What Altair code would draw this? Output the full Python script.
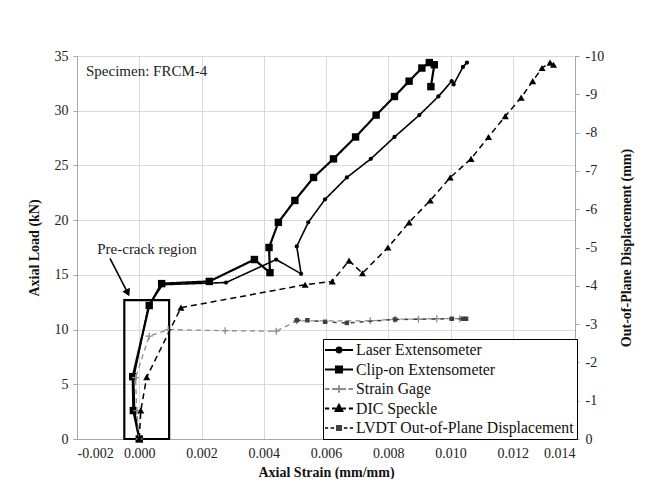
import altair as alt
import pandas as pd

# ---------------- data ----------------
laser_x = [0.0, -0.00015, -0.00018, 0.00030, 0.00075, 0.00279, 0.00440, 0.00520, 0.00506,
           0.00543, 0.00597, 0.00667, 0.00744, 0.00820, 0.00900, 0.00961, 0.01004, 0.01010,
           0.01040, 0.01053]
laser_y = [0.0, 2.6, 5.6, 12.2, 14.1, 14.3, 16.4, 15.1, 17.6,
           19.8, 21.9, 23.9, 25.6, 27.6, 29.6, 31.3, 32.7, 32.4,
           34.0, 34.4]

clip_x = [0.0, -0.00019, -0.00021, 0.00032, 0.00072, 0.00225, 0.00370, 0.00420, 0.00417,
          0.00447, 0.00500, 0.00560, 0.00624, 0.00695, 0.00761, 0.00820, 0.00867, 0.00908,
          0.00932, 0.00948, 0.00937]
clip_y = [0.0, 2.6, 5.7, 12.2, 14.2, 14.4, 16.4, 15.2, 17.5,
          19.8, 21.8, 23.9, 25.6, 27.6, 29.6, 31.3, 32.7, 33.9,
          34.4, 34.2, 32.2]

sg_x = [0.0, -0.00008, -0.00012, 0.00032, 0.00093, 0.00276, 0.00440, 0.00506,
        0.00742, 0.00822, 0.00897, 0.00956, 0.01030]
sg_y = [0.0, 2.6, 5.6, 9.4, 10.0, 9.9, 9.85, 10.8,
        10.8, 10.95, 10.95, 11.0, 11.0]

dic_x = [0.0, 0.00005, 0.00024, 0.00134, 0.00533, 0.00620, 0.00674, 0.00717, 0.00799,
         0.00867, 0.00935, 0.00999, 0.01066, 0.01122, 0.01176, 0.01227, 0.01264, 0.01294,
         0.01320, 0.01331]
dic_y = [0.0, 2.6, 5.65, 12.0, 14.1, 14.4, 16.3, 15.15, 17.5,
         19.8, 21.8, 23.9, 25.6, 27.6, 29.5, 31.2, 32.7, 33.9,
         34.4, 34.2]

lvdt_x = [0.00506, 0.00540, 0.00597, 0.00667, 0.00822, 0.01004, 0.01040, 0.01050]
lvdt_mm = [-3.10, -3.10, -3.06, -3.03, -3.12, -3.14, -3.14, -3.14]

series_names = ["Laser Extensometer", "Clip-on Extensometer", "Strain Gage",
                "DIC Speckle", "LVDT Out-of-Plane Displacement"]

x_ticks = [-0.002, 0.0, 0.002, 0.004, 0.006, 0.008, 0.010, 0.012, 0.014]
y_ticks = [0, 5, 10, 15, 20, 25, 30, 35]
y2_ticks = [0, -1, -2, -3, -4, -5, -6, -7, -8, -9, -10]

# annotations
box_x = [-0.00048, 0.00096]
box_y = [0.0, 12.7]
arrow_x = [-0.00094, -0.00037]
arrow_y = [16.5, 13.35]
specimen_label = "Specimen: FRCM-4"
specimen_pos = (-0.00171, 33.15)
precrack_label = "Pre-crack region"
precrack_pos = (-0.00135, 16.9)

# ---------------- styling ----------------
FONT = "Liberation Serif"
GRID = "#d9d9d9"
AXC = "#a6a6a6"
AX_COMMON = dict(labelFont=FONT, labelFontSize=14, labelColor="#222222",
                 titleFont=FONT, titleFontSize=14, titleFontWeight="bold", titleColor="#111111",
                 domainColor=AXC, tickColor=AXC, gridColor=GRID, gridWidth=1)


def make_df(xs, ys, name, col="value"):
    return pd.DataFrame({"strain": xs, col: ys, "series": name, "i": list(range(len(xs)))})


X = alt.X("strain:Q",
          scale=alt.Scale(domain=[-0.002, 0.014], nice=False, zero=False),
          axis=alt.Axis(values=x_ticks, title="Axial Strain (mm/mm)",
                        labelExpr="datum.value < 0 ? '-' + format(-datum.value, '.3f') : format(datum.value, '.3f')",
                        ticks=False, labelPadding=7, titlePadding=5, **AX_COMMON))
Y = alt.Y("value:Q",
          scale=alt.Scale(domain=[0, 35], nice=False),
          axis=alt.Axis(values=y_ticks, title="Axial Load (kN)", tickSize=4,
                        labelPadding=5, titlePadding=13, **AX_COMMON))

styles = {
    "Laser Extensometer": dict(color="black", width=1.6, dash=[1, 0], shape="circle", size=18, filled=True),
    "Clip-on Extensometer": dict(color="black", width=2.2, dash=[1, 0], shape="square", size=55, filled=True),
    "Strain Gage": dict(color="#8c8c8c", width=1.3, dash=[5, 4], shape="M-1,0H1M0,-1V1", size=49, filled=False),
    "DIC Speckle": dict(color="black", width=1.5, dash=[6, 4], shape="triangle-up", size=50, filled=True),
    "LVDT Out-of-Plane Displacement": dict(color="#404040", width=1.5, dash=[4, 5], shape="square", size=20, filled=True),
}

left_data = {
    "Laser Extensometer": (laser_x, laser_y),
    "Clip-on Extensometer": (clip_x, clip_y),
    "Strain Gage": (sg_x, sg_y),
    "DIC Speckle": (dic_x, dic_y),
}

left_layers = []

box_df = pd.DataFrame({"strain": [box_x[0]], "strain2": [box_x[1]], "value": [box_y[0]], "value2": [box_y[1]]})
left_layers.append(
    alt.Chart(box_df).mark_rect(fill=None, stroke="black", strokeWidth=2.2).encode(
        x=X, x2="strain2:Q", y=Y, y2="value2:Q")
)

for name, (xs, ys) in left_data.items():
    st = styles[name]
    df = make_df(xs, ys, name)
    base = alt.Chart(df)
    left_layers.append(
        base.mark_line(color=st["color"], strokeWidth=st["width"], strokeDash=st["dash"]).encode(
            x=X, y=Y, order="i:Q")
    )
    pt = base.mark_point(shape=st["shape"], size=st["size"], filled=st["filled"],
                         color=st["color"], opacity=1,
                         strokeWidth=1.3 if not st["filled"] else 1)
    left_layers.append(pt.encode(x=X, y=Y))

arrow_df = pd.DataFrame({"strain": arrow_x, "value": arrow_y, "i": [0, 1]})
left_layers.append(
    alt.Chart(arrow_df).mark_line(color="black", strokeWidth=1.6).encode(x=X, y=Y, order="i:Q")
)
left_layers.append(
    alt.Chart(arrow_df.iloc[[1]]).mark_point(shape="triangle-up", angle=154, size=70, filled=True,
                                             color="black", opacity=1).encode(x=X, y=Y)
)

text_df = pd.DataFrame({
    "strain": [specimen_pos[0], precrack_pos[0]],
    "value": [specimen_pos[1], precrack_pos[1]],
    "label": [specimen_label, precrack_label],
})
left_layers.append(
    alt.Chart(text_df).mark_text(align="left", baseline="alphabetic", font=FONT, fontSize=15,
                                 color="#222222").encode(x=X, y=Y, text="label:N")
)

# legend layer (invisible marks, visible legend)
legend_paths = [
    "M-2,0H2M-0.36,0A0.36,0.36 0 1,0 0.36,0A0.36,0.36 0 1,0 -0.36,0Z",
    "M-2,0H2M-0.45,-0.45H0.45V0.45H-0.45Z",
    "M-2,0H-1.35M-1.0,0H1.0M1.35,0H2M0,-0.55V0.55",
    "M-2,0H-1.4M-1.0,0H-0.45M0.45,0H1.0M1.4,0H2M0,-0.55L0.5,0.38H-0.5Z",
    "M-2,0H-1.55M-1.2,0H-0.7M-0.35,0H0.35M0.7,0H1.2M1.55,0H2M-0.3,-0.3H0.3V0.3H-0.3Z",
]
legend_colors = ["black", "black", "#8c8c8c", "black", "#404040"]
leg = alt.Legend(title=None, orient="none", legendX=246, legendY=283, direction="vertical",
                 strokeColor="black", fillColor="white", padding=3,
                 labelFont=FONT, labelFontSize=15.8, labelColor="#111111", labelLimit=400,
                 symbolSize=196, symbolStrokeWidth=1.8, symbolOpacity=1,
                 symbolOffset=5, labelOffset=9, rowPadding=3.5)
legend_df = pd.concat([make_df(xs, ys, n) for n, (xs, ys) in left_data.items()], ignore_index=True)
left_layers.append(
    alt.Chart(legend_df).mark_point(filled=True, opacity=0).encode(
        x=X, y=Y,
        shape=alt.Shape("series:N", scale=alt.Scale(domain=series_names, range=legend_paths), legend=leg),
        color=alt.Color("series:N", scale=alt.Scale(domain=series_names, range=legend_colors), legend=leg),
        stroke=alt.Stroke("series:N", scale=alt.Scale(domain=series_names, range=legend_colors), legend=leg),
    )
)

left = alt.layer(*left_layers)

# right axis: LVDT
st = styles["LVDT Out-of-Plane Displacement"]
lv_df = make_df(lvdt_x, lvdt_mm, "LVDT Out-of-Plane Displacement", col="disp")
Y2 = alt.Y("disp:Q",
           scale=alt.Scale(domain=[0, -10], nice=False, zero=False),
           axis=alt.Axis(orient="right", values=y2_ticks, title="Out-of-Plane Displacement (mm)",
                         labelExpr="datum.value < 0 ? '-' + format(-datum.value, 'd') : '0'",
                         grid=False, tickSize=4, labelPadding=6, titlePadding=30, titleAngle=270,
                         **AX_COMMON))
right = alt.layer(
    alt.Chart(lv_df).mark_line(color=st["color"], strokeWidth=st["width"], strokeDash=st["dash"]).encode(
        x=X, y=Y2, order="i:Q"),
    alt.Chart(lv_df).mark_point(shape="square", size=st["size"], filled=True, color=st["color"],
                                opacity=1).encode(x=X, y=Y2),
)

chart = alt.layer(left, right).resolve_scale(y="independent").properties(
    width=498, height=383,
    autosize=alt.AutoSizeParams(type="none"),
    padding={"left": 69, "top": 48, "right": 80, "bottom": 40},
).configure_view(
    stroke=AXC, strokeWidth=1
).configure(background="white")

chart.save("out.html", embed_options={"renderer": "svg", "actions": False})
